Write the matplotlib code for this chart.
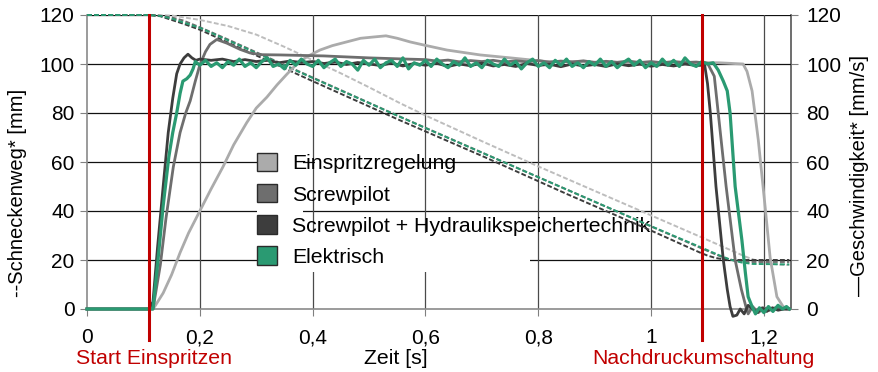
import numpy as np
import matplotlib
matplotlib.use("Agg")
import matplotlib.pyplot as plt
from matplotlib.patches import Patch, Rectangle

plt.rcParams['font.family'] = ['Liberation Sans', 'DejaVu Sans']
plt.rcParams['lines.scale_dashes'] = False

# ---------------- data ----------------
labels = ["Einspritzregelung", "Screwpilot",
          "Screwpilot + Hydraulikspeichertechnik", "Elektrisch"]
colors = ["#ababab", "#6e6e6e", "#3d3d3d", "#2a9a72"]

xticks = [0, 0.2, 0.4, 0.6, 0.8, 1.0, 1.2]
xticklabels = ["0", "0,2", "0,4", "0,6", "0,8", "1", "1,2"]
yticks = [0, 20, 40, 60, 80, 100, 120]

t_start = 0.11      # Start Einspritzen
t_switch = 1.09     # Nachdruckumschaltung

# Schneckenweg (dashed) [mm]
weg_light_t = [0, 0.11, 0.15, 0.2, 0.25, 0.3, 0.35, 0.4, 0.45, 0.5, 0.555, 0.6, 0.7, 0.8, 0.9,
               1.0, 1.087, 1.167, 1.19, 1.21, 1.234, 1.245]
weg_light_v = [120, 120, 119.8, 118, 115.5, 112, 107, 101.6, 96.2, 90.5, 84, 79, 68.5, 58.2, 48.2,
               38.2, 29.5, 21.4, 19.5, 18.5, 18, 18]
weg_mid_t = [0, 0.11, 0.13, 0.15, 0.17, 0.2, 0.25, 0.3, 0.4, 0.555, 0.7, 0.85, 1.0, 1.087,
             1.11, 1.13, 1.15, 1.17, 1.245]
weg_mid_v = [120, 120, 119.7, 119, 117.8, 115, 110, 104.8, 94.5, 78.5, 63.9, 48.8, 33.7, 25,
             22.7, 20.8, 19.6, 19.2, 19.2]
weg_dark_t = [0, 0.11, 0.13, 0.15, 0.17, 0.2, 0.3, 0.4, 0.555, 0.7, 0.85, 1.0, 1.087, 1.1,
              1.115, 1.13, 1.145, 1.245]
weg_dark_v = [120, 120, 119.5, 118, 116.5, 114, 103.5, 93, 77, 62.5, 47, 32, 23, 21.8,
              20.8, 20.2, 20, 20]
weg_green_t = [0, 0.11, 0.13, 0.15, 0.17, 0.19, 0.2, 0.3, 0.4, 0.555, 0.7, 0.85, 1.0, 1.087,
               1.12, 1.14, 1.16, 1.18, 1.245]
weg_green_v = [120, 120, 119.6, 118.6, 117, 115.5, 114.8, 104.5, 94.3, 78.4, 63.8, 48.8, 33.8, 25.3,
               22, 20.2, 19, 18.4, 18.2]

# Geschwindigkeit (solid) [mm/s]
v_light_t = [0, 0.113, 0.12, 0.135, 0.15, 0.165, 0.18, 0.2, 0.22, 0.241, 0.26, 0.283, 0.3, 0.319,
             0.337, 0.355, 0.372, 0.39, 0.413, 0.435, 0.46, 0.485, 0.507, 0.53, 0.55, 0.573,
             0.596, 0.638, 0.697, 0.755, 0.815, 0.874, 0.93, 1.0, 1.06, 1.12, 1.163, 1.17,
             1.179, 1.19, 1.202, 1.211, 1.223, 1.234, 1.24, 1.245]
v_light_v = [0, 0, 1, 6.5, 14, 23, 31, 40, 49, 58, 67, 76, 82, 86.5,
             91.5, 96, 100, 103, 105.7, 107.5, 109, 110.5, 111, 111.5, 110.5, 109,
             107.8, 105.7, 103.7, 102.4, 101, 101, 100.5, 100.5, 100.6, 100.5, 100, 97,
             89, 69, 42, 21, 5, 1, 0, 0]

v_mid_rise_t = [0, 0.117, 0.13, 0.14, 0.153, 0.165, 0.175, 0.183, 0.192, 0.2, 0.21, 0.218,
                0.23, 0.248, 0.271, 0.289, 0.31, 0.342, 0.38, 0.42, 0.449, 0.5, 0.567]
v_mid_rise_v = [0, 0, 18, 37, 58, 72, 80, 85, 93, 99.6, 105, 108,
                110, 108.5, 106, 104.5, 103.8, 103.7, 103.5, 103.3, 103, 102.5, 102]
v_mid_plateau = [101.8, 101.2, 101.6, 100.9, 101.4, 101, 101.5, 100.8, 101.3, 100.9, 101.4,
                 100.7, 101.2, 100.8, 101.3, 100.6, 101.1, 100.7, 101.2, 100.6, 101, 100.5,
                 101, 100.6, 100.8, 100.3]          # from 0.60 every 0.02 s
v_mid_drop_t = [1.112, 1.119, 1.126, 1.133, 1.141, 1.149, 1.16, 1.168, 1.172, 1.18, 1.19,
                1.2, 1.21, 1.22, 1.23, 1.245]
v_mid_drop_v = [95, 80, 65, 50, 35, 20, 8, 1, -2, 1, -1.5, 0.5, -0.5, 0.5, 0, 0]

v_dark_rise_t = [0, 0.11, 0.117, 0.125, 0.135, 0.144, 0.152, 0.159, 0.165, 0.172, 0.179,
                 0.186, 0.193]
v_dark_rise_v = [0, 0, 3, 25, 50, 72, 86, 96, 100, 102.5, 104, 102.5, 101.5]
v_dark_plateau = [102, 101.5, 102, 101, 101.8, 101, 101.5, 100.5, 101.2, 100.6, 101, 100.2,
                  100.8, 99.8, 100.6, 100, 99.4, 100.4, 99.2, 100.2, 99.5, 100.3, 99, 100,
                  99.3, 100.4, 99.2, 99.8, 99, 100.2, 99.4, 99.9, 98.9, 100, 99.2, 99.8, 99,
                  100.1, 99.3, 99.9, 99.1, 99.8, 99.2, 100, 99.4]   # from 0.20 every 0.02 s
v_dark_drop_t = [1.095, 1.1, 1.105, 1.115, 1.128, 1.135, 1.14, 1.145, 1.152, 1.158, 1.165,
                 1.172, 1.18, 1.188, 1.197, 1.205, 1.215, 1.225, 1.235, 1.245]
v_dark_drop_v = [99.5, 92, 80, 50, 20, 8, 1, -3, -2.5, 0, -2, 1.5, 0, -1.5, 0.5, -1, 0.5,
                 -0.5, 0, 0]

v_green_rise_t = [0, 0.11, 0.117, 0.125, 0.135, 0.145, 0.152, 0.159, 0.165, 0.17, 0.177,
                  0.183, 0.188, 0.192]
v_green_rise_v = [0, 0, 0, 18, 42, 62, 72, 80, 88, 93, 94, 95.5, 98, 101]
v_green_plateau = [99.5, 101.5, 99, 100.5, 98.5, 101, 99.5, 102, 99, 100.5,
                   98.5, 101, 102.5, 99, 100, 98, 101.5, 99.5, 102, 100,
                   99, 101.5, 98.5, 100.5, 102, 99, 101, 100, 97.5, 101.5,
                   99.5, 102, 98.5, 100.5, 101.5, 99, 102.5, 98, 100.5, 99.5,
                   101.5, 99, 102, 100, 98.5, 101, 99.5, 102.5, 99, 100.5,
                   98.5, 101.5, 100, 99, 102, 99.5, 101, 98, 100.5, 102,
                   99, 100.5, 98.5, 101.5, 99.5, 102, 99, 100.5, 98.5, 101,
                   99.5, 102, 99, 101, 98.5, 100.5, 102, 99.5, 101.5, 98.5,
                   100.5, 99, 102, 99.5, 101.5, 99, 102.5, 100, 99, 101,
                   100, 100.5]                       # from 0.20 every 0.01 s
v_green_drop_t = [1.119, 1.128, 1.135, 1.14, 1.149, 1.161, 1.167, 1.172, 1.179, 1.185,
                  1.192, 1.2, 1.208, 1.216, 1.225, 1.233, 1.24, 1.245]
v_green_drop_v = [97.5, 93, 89, 80, 50, 28, 15, 5, 1, -2, 0.5, -1.5, 1, -1, 1.5, 0, 1, 0]


def series(rise_t, rise_v, plat_start, plat_step, plat_v, drop_t, drop_v):
    pt = plat_start + plat_step * np.arange(len(plat_v))
    return (np.concatenate([rise_t, pt, drop_t]),
            np.concatenate([rise_v, plat_v, drop_v]))


mid_t, mid_v = series(v_mid_rise_t, v_mid_rise_v, 0.60, 0.02, v_mid_plateau,
                      v_mid_drop_t, v_mid_drop_v)
dark_t, dark_v = series(v_dark_rise_t, v_dark_rise_v, 0.20, 0.02, v_dark_plateau,
                        v_dark_drop_t, v_dark_drop_v)
green_t, green_v = series(v_green_rise_t, v_green_rise_v, 0.20, 0.01, v_green_plateau,
                          v_green_drop_t, v_green_drop_v)

# ---------------- figure ----------------
W, H = 879, 372
fig = plt.figure(figsize=(W / 100, H / 100), dpi=100)
L, R, T, B = 87, 791, 15, 309
ax = fig.add_axes([L / W, 1 - B / H, (R - L) / W, (B - T) / H])
ax.set_xlim(0, 1.248)
ax.set_ylim(0, 120)

red = "#c00000"
FS_TICK = 15
FS_TEXT = 15.3
for y in yticks[1:]:
    ax.axhline(y, color="#111111", lw=0.9, zorder=0.5)
for x in xticks[1:]:
    ax.axvline(x, color="#4a4a4a", lw=0.9, zorder=0.5)

ax.set_zorder(1)
ax.patch.set_visible(False)

# dashed Schneckenweg
dash_kw = dict(lw=1.4, ls=(0, (3.5, 1.6)), clip_on=False, zorder=3)
ax.plot(weg_light_t, weg_light_v, color="#bdbdbd", **dash_kw)
ax.plot(weg_mid_t, weg_mid_v, color=colors[1], **dash_kw)
ax.plot(weg_dark_t, weg_dark_v, color=colors[2], **dash_kw)
ax.plot(weg_green_t, weg_green_v, color=colors[3], **dash_kw)

# solid Geschwindigkeit
ax.plot(v_light_t, v_light_v, color=colors[0], lw=2.0, clip_on=False, zorder=4)
ax.plot(mid_t, mid_v, color=colors[1], lw=2.0, clip_on=False, zorder=4)
ax.plot(dark_t, dark_v, color=colors[2], lw=2.0, clip_on=False, zorder=4)
ax.plot(green_t, green_v, color=colors[3], lw=2.3, clip_on=False, zorder=5)

# red markers
for xv in (t_start, t_switch):
    ax.axvline(xv, ymin=-0.105, ymax=1.0, color=red, lw=2.2, clip_on=False, zorder=6)

ax.set_xticks(xticks)
ax.set_xticklabels(xticklabels)
ax.set_yticks(yticks)
ax.tick_params(axis="both", direction="out", length=5, color="#808080",
               labelsize=FS_TICK, pad=4)
ax.tick_params(axis="x", pad=9)
for s in ("left", "bottom"):
    ax.spines[s].set_color("#8a8a8a")
    ax.spines[s].set_linewidth(1.2)
ax.spines["top"].set_visible(False)
ax.spines["right"].set_visible(False)

ax2 = ax.twinx()
ax2.set_zorder(0)
ax2.set_ylim(0, 120)
ax2.set_yticks(yticks)
ax2.tick_params(axis="y", direction="out", length=5, color="#808080",
                labelsize=FS_TICK, pad=6)
for s in ("left", "bottom", "top"):
    ax2.spines[s].set_visible(False)
ax2.spines["right"].set_color("#555555")
ax2.spines["right"].set_linewidth(1.2)

# white legend background pieces (figure pixels), under the data lines
for (x0, y0, x1, y1) in [(257, 233, 530, 272), (257, 150, 303, 233), (315, 157, 413, 167)]:
    ax.add_patch(Rectangle((x0 / W, 1 - y1 / H), (x1 - x0) / W, (y1 - y0) / H,
                           transform=fig.transFigure, facecolor="white",
                           edgecolor="none", zorder=0.8, clip_on=False))

# legend
handles = [Patch(facecolor=c, edgecolor="#2b2b2b", lw=1.0) for c in colors]
leg = ax.legend(handles, labels, loc="upper left",
                bbox_to_anchor=(257 / W, 1 - 153 / H), bbox_transform=fig.transFigure,
                frameon=False, fontsize=FS_TEXT, handlelength=0.95, handleheight=0.95,
                handletextpad=0.7, labelspacing=0.5, borderpad=0, borderaxespad=0)
leg.set_zorder(2)

# axis labels
fig.text(18 / W, 1 - 193 / H, "--Schneckenweg* [mm]", rotation=90, fontsize=14.5,
         ha="center", va="center")
fig.text(860 / W, 1 - 175 / H, "\u2014Geschwindigkeit* [mm/s]", rotation=90, fontsize=14.5,
         ha="center", va="center")
fig.text(396 / W, 1 - 358 / H, "Zeit [s]", fontsize=FS_TEXT, ha="center", va="center")
fig.text(154 / W, 1 - 358 / H, "Start Einspritzen", fontsize=FS_TEXT, ha="center",
         va="center", color=red)
fig.text(703 / W, 1 - 358 / H, "Nachdruckumschaltung", fontsize=FS_TEXT, ha="center",
         va="center", color=red)

fig.savefig("out.png", dpi=100)
